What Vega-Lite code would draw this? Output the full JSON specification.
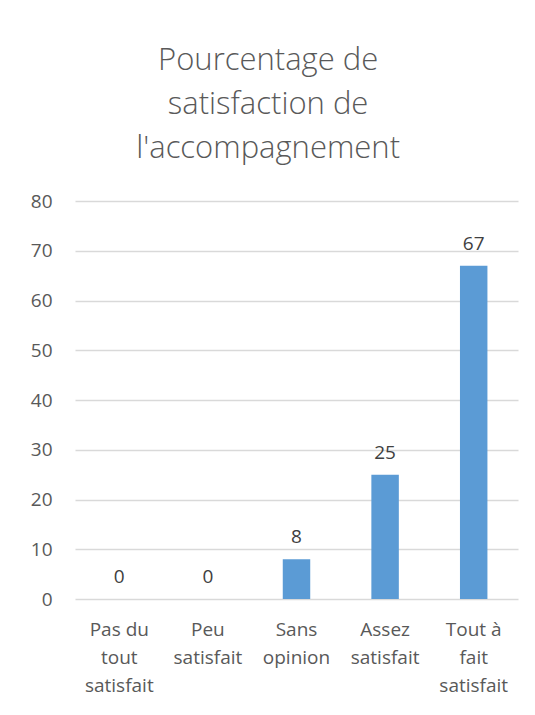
{
  "$schema": "https://vega.github.io/schema/vega-lite/v6.json",
  "autosize": "none",
  "width": 443,
  "height": 398,
  "padding": {"left": 75, "top": 201, "right": 17, "bottom": 116},
  "background": "white",
  "title": {
    "text": ["Pourcentage de", "satisfaction de", "l'accompagnement"],
    "font": "Open Sans",
    "fontSize": 31,
    "fontWeight": 300,
    "color": "#595959",
    "lineHeight": 44,
    "anchor": "middle",
    "frame": "bounds",
    "dx": -6,
    "offset": 27
  },
  "data": {
    "values": [
      {"categorie": "Pas du|tout|satisfait", "pourcentage": 0},
      {"categorie": "Peu|satisfait", "pourcentage": 0},
      {"categorie": "Sans|opinion", "pourcentage": 8},
      {"categorie": "Assez|satisfait", "pourcentage": 25},
      {"categorie": "Tout à|fait|satisfait", "pourcentage": 67}
    ]
  },
  "encoding": {
    "x": {
      "field": "categorie",
      "type": "nominal",
      "sort": null,
      "scale": {"paddingInner": 0.69, "paddingOuter": 0.345},
      "axis": {
        "title": null,
        "labelAngle": 0,
        "labelExpr": "split(datum.value, '|')",
        "labelFont": "Open Sans",
        "labelFontSize": 19,
        "labelLineHeight": 28,
        "labelColor": "#595959",
        "labelPadding": 21,
        "ticks": false,
        "domain": false,
        "grid": false
      }
    },
    "y": {
      "field": "pourcentage",
      "type": "quantitative",
      "scale": {"domain": [0, 80]},
      "axis": {
        "title": null,
        "values": [0, 10, 20, 30, 40, 50, 60, 70, 80],
        "labelFont": "Open Sans",
        "labelFontSize": 19,
        "labelColor": "#595959",
        "labelPadding": 23,
        "ticks": false,
        "domain": false,
        "grid": true,
        "gridColor": "#d9d9d9",
        "gridWidth": 1.3
      }
    }
  },
  "layer": [
    {"mark": {"type": "bar", "color": "#5b9bd5"}},
    {
      "mark": {
        "type": "text",
        "font": "Open Sans",
        "fontSize": 19,
        "color": "#404040",
        "baseline": "alphabetic",
        "dy": -16
      },
      "encoding": {"text": {"field": "pourcentage", "type": "quantitative"}}
    }
  ],
  "config": {"view": {"stroke": null}}
}
